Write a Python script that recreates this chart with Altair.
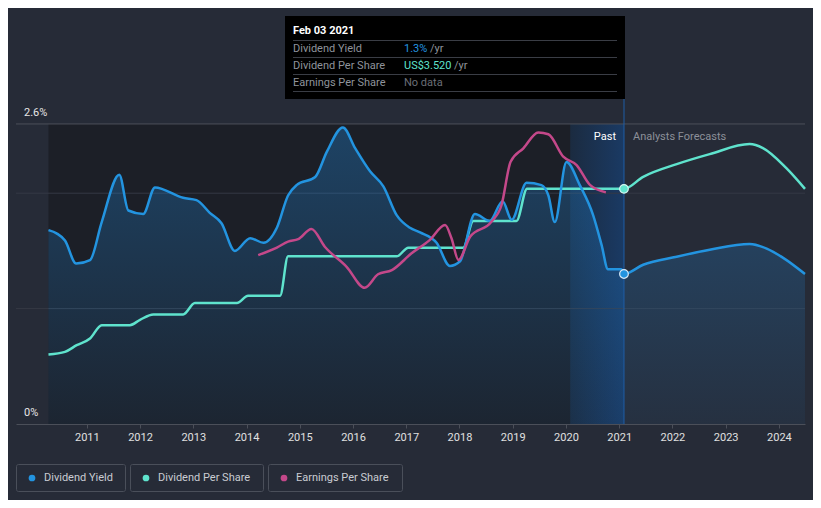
import altair as alt
import pandas as pd

# ---------------- data ----------------
# Dividend yield, % (past, then analyst forecast)
yield_years = [2010.28, 2010.44, 2010.59, 2010.80, 2011.06, 2011.28, 2011.61, 2011.78,
               2012.06, 2012.28, 2012.81, 2013.06, 2013.31, 2013.53, 2013.78, 2014.07,
               2014.32, 2014.57, 2014.78, 2014.94, 2015.29, 2015.51, 2015.81, 2016.04,
               2016.32, 2016.57, 2016.82, 2017.07, 2017.26, 2017.57, 2017.82, 2018.01,
               2018.29, 2018.57, 2018.81, 2018.98, 2019.26, 2019.54, 2019.67, 2019.79,
               2020.01, 2020.26, 2020.51, 2020.67, 2020.79, 2021.04]
yield_vals = [1.68, 1.65, 1.59, 1.39, 1.42, 1.75, 2.16, 1.85,
              1.82, 2.05, 1.96, 1.94, 1.83, 1.74, 1.50, 1.61,
              1.57, 1.70, 1.98, 2.07, 2.14, 2.36, 2.57, 2.39,
              2.19, 2.06, 1.81, 1.70, 1.66, 1.57, 1.37, 1.41,
              1.82, 1.76, 1.93, 1.77, 2.09, 2.07, 1.98, 1.75,
              2.27, 2.07, 1.81, 1.55, 1.34, 1.34]
yield_fc_years = [2021.09, 2021.45, 2022.08, 2022.70, 2023.45, 2023.77, 2024.08, 2024.49]
yield_fc_vals = [1.30, 1.38, 1.45, 1.51, 1.56, 1.52, 1.44, 1.30]

# Dividend per share, US$
dps_years = [2010.28, 2010.59, 2010.81, 2011.06, 2011.28, 2011.81, 2012.00, 2012.25,
             2012.81, 2013.03, 2013.82, 2014.03, 2014.63, 2014.78, 2016.82, 2017.04,
             2018.07, 2018.26, 2019.07, 2019.27, 2021.09]
dps_vals = [1.04, 1.08, 1.18, 1.28, 1.48, 1.48, 1.56, 1.64,
            1.64, 1.81, 1.81, 1.92, 1.92, 2.51, 2.51, 2.64,
            2.64, 3.04, 3.04, 3.52, 3.52]
dps_fc_years = [2021.09, 2021.45, 2022.08, 2022.70, 2023.45, 2023.70, 2024.14, 2024.49]
dps_fc_vals = [3.52, 3.70, 3.89, 4.04, 4.19, 4.13, 3.83, 3.52]

# Earnings per share, US$
eps_years = [2014.22, 2014.57, 2014.78, 2014.97, 2015.22, 2015.47, 2015.88, 2016.22,
             2016.47, 2016.73, 2017.10, 2017.44, 2017.73, 2017.85, 2017.98, 2018.20,
             2018.60, 2018.79, 2018.96, 2019.20, 2019.48, 2019.67, 2019.95, 2020.20,
             2020.45, 2020.75]
eps_vals = [5.63, 5.88, 6.08, 6.16, 6.50, 5.91, 5.24, 4.54,
            4.99, 5.13, 5.69, 6.13, 6.63, 6.19, 5.47, 6.24,
            6.74, 7.30, 8.74, 9.19, 9.72, 9.66, 8.91, 8.63,
            7.97, 7.72]

x_ticks = list(range(2011, 2025))
y_label_vals = [0.0, 2.6]
y_label_text = ["0%", "2.6%"]
grid_vals = [1.0, 2.0]
top_grid_vals = [2.6]

past_start = 2010.28
now_year = 2021.09
band_start = 2020.08

tooltip_title = "Feb 03 2021"
tooltip_labels = ["Dividend Yield", "Dividend Per Share", "Earnings Per Share"]
tooltip_values = ["1.3%", "US$3.520", "No data"]
tooltip_units = ["/yr", "/yr", ""]

legend_labels = ["Dividend Yield", "Dividend Per Share", "Earnings Per Share"]

# ---------------- styling ----------------
BG = "#262b37"
BLUE = "#2394e0"
TEAL = "#5fe3cd"
PINK = "#c4488a"
FONT = "Roboto"

W, H = 789, 408
X_DOMAIN = [2009.67, 2024.49]
YIELD_DOMAIN = [0, 3.5355]
DPS_DOMAIN = [0, 6.108]
EPS_DOMAIN = [0, 13.6]


def xenc(field):
    return alt.X(f"{field}:Q",
                 scale=alt.Scale(domain=X_DOMAIN, nice=False, zero=False),
                 axis=alt.Axis(values=x_ticks, format="d", title=None, grid=False))


def yenc(field, domain):
    return alt.Y(f"{field}:Q",
                 scale=alt.Scale(domain=domain, nice=False, zero=False),
                 axis=None)


one = alt.Data(values=[{}])

# background regions
regions = pd.DataFrame({"x0": [past_start], "x1": [now_year], "y0": [0.0], "y1": [2.6]})
past_bg = alt.Chart(regions).mark_rect(color="#1c1f27").encode(
    x=xenc("x0"), x2="x1:Q", y=yenc("y0", YIELD_DOMAIN), y2="y1:Q")

band = pd.DataFrame({"x0": [band_start], "x1": [now_year], "y0": [0.0], "y1": [2.6]})
band_rect = alt.Chart(band).mark_rect(
    color=alt.Gradient(gradient="linear", x1=0, x2=1, y1=0, y2=0,
                       stops=[alt.GradientStop(offset=0, color="#1b2b40"),
                              alt.GradientStop(offset=1, color="#1a3a64")])
).encode(x=xenc("x0"), x2="x1:Q", y=yenc("y0", YIELD_DOMAIN), y2="y1:Q")

grid = alt.Chart(pd.DataFrame({"v": grid_vals})).mark_rule(color="#353944", strokeWidth=1).encode(
    y=yenc("v", YIELD_DOMAIN), x=alt.value(0), x2=alt.value(W))
top_grid = alt.Chart(pd.DataFrame({"v": top_grid_vals})).mark_rule(color="#4b4f59", strokeWidth=1).encode(
    y=yenc("v", YIELD_DOMAIN), x=alt.value(0), x2=alt.value(W))

# yield area
area_df = pd.DataFrame({"year": yield_years + yield_fc_years,
                        "v": yield_vals + yield_fc_vals})
yield_area = alt.Chart(area_df).mark_area(
    interpolate="monotone",
    color=alt.Gradient(gradient="linear", x1=0, x2=0, y1=0, y2=1,
                       stops=[alt.GradientStop(offset=0, color="rgba(33,150,243,0.30)"),
                              alt.GradientStop(offset=1, color="rgba(33,150,243,0.05)")])
).encode(x=xenc("year"), y=yenc("v", YIELD_DOMAIN))

yield_line = alt.Chart(area_df).mark_line(interpolate="monotone", color=BLUE, strokeWidth=2.5).encode(
    x=xenc("year"), y=yenc("v", YIELD_DOMAIN))

dps_df = pd.DataFrame({"year": dps_years + dps_fc_years[1:], "v": dps_vals + dps_fc_vals[1:]})
dps_line = alt.Chart(dps_df).mark_line(interpolate="monotone", color=TEAL, strokeWidth=2.5).encode(
    x=xenc("year"), y=yenc("v", DPS_DOMAIN))

eps_df = pd.DataFrame({"year": eps_years, "v": eps_vals})
eps_line = alt.Chart(eps_df).mark_line(interpolate="monotone", color=PINK, strokeWidth=2.5).encode(
    x=xenc("year"), y=yenc("v", EPS_DOMAIN))

# hover line + markers
hover = pd.DataFrame({"x": [now_year], "y0": [0.0], "y1": [2.9]})
hover_rule = alt.Chart(hover).mark_rule(color="#1f5ea6", strokeWidth=1).encode(
    x=xenc("x"), y=yenc("y0", YIELD_DOMAIN), y2="y1:Q")

m_yield = alt.Chart(pd.DataFrame({"year": [yield_fc_years[0]], "v": [yield_fc_vals[0]]})).mark_circle(
    color=BLUE, size=75, opacity=1, stroke="#d5e8f7", strokeWidth=1.2).encode(
    x=xenc("year"), y=yenc("v", YIELD_DOMAIN))
m_dps = alt.Chart(pd.DataFrame({"year": [dps_fc_years[0]], "v": [dps_fc_vals[0]]})).mark_circle(
    color=TEAL, size=75, opacity=1, stroke="#d5f5ef", strokeWidth=1.2).encode(
    x=xenc("year"), y=yenc("v", DPS_DOMAIN))

# Past / Forecast labels
pf = pd.DataFrame({"x": [now_year], "y": [2.6]})
past_txt = alt.Chart(pf).mark_text(align="right", baseline="middle", dx=-8, dy=13,
                                   fontSize=11, font=FONT, color="#ffffff", text="Past").encode(
    x=xenc("x"), y=yenc("y", YIELD_DOMAIN))
fc_txt = alt.Chart(pf).mark_text(align="left", baseline="middle", dx=9, dy=13,
                                 fontSize=11, font=FONT, color="#8c9099", text="Analysts Forecasts").encode(
    x=xenc("x"), y=yenc("y", YIELD_DOMAIN))

# y labels
ylab = alt.Chart(pd.DataFrame({"v": y_label_vals, "t": y_label_text})).mark_text(
    align="left", baseline="bottom", dy=-6, fontSize=11, font=FONT, color="#e6e6e6").encode(
    x=alt.value(8), y=yenc("v", YIELD_DOMAIN), text="t:N")

layers = [past_bg, band_rect, grid, top_grid, yield_area, hover_rule,
          dps_line, yield_line, eps_line, m_dps, m_yield, past_txt, fc_txt, ylab]

# tooltip box
TX0, TX1 = 269, 609
layers.append(alt.Chart(one).mark_rect(color="#000000").encode(
    x=alt.value(TX0), x2=alt.value(TX1), y=alt.value(0), y2=alt.value(83)))
layers.append(alt.Chart(one).mark_text(align="left", baseline="middle", fontSize=11, font=FONT,
                                       fontWeight="bold", color="#ffffff", text=tooltip_title).encode(
    x=alt.value(277), y=alt.value(15)))
sep_y = [24.5, 41.5, 58.5, 75.5]
for sy in sep_y:
    layers.append(alt.Chart(one).mark_rule(color="#3a3d45", strokeWidth=1).encode(
        x=alt.value(277), x2=alt.value(601), y=alt.value(sy)))
row_y = [32.5, 49.5, 66.5]
val_colors = [BLUE, TEAL, "#6b6f77"]
unit_x = [414, 438, 0]
for i, lab in enumerate(tooltip_labels):
    layers.append(alt.Chart(one).mark_text(align="left", baseline="middle", fontSize=11, font=FONT,
                                           color="#8f939b", text=lab).encode(
        x=alt.value(277), y=alt.value(row_y[i])))
    layers.append(alt.Chart(one).mark_text(align="left", baseline="middle", fontSize=11, font=FONT,
                                           color=val_colors[i], text=tooltip_values[i]).encode(
        x=alt.value(388), y=alt.value(row_y[i])))
    if tooltip_units[i]:
        layers.append(alt.Chart(one).mark_text(align="left", baseline="middle", fontSize=11, font=FONT,
                                               color="#8f939b", text=tooltip_units[i]).encode(
            x=alt.value(unit_x[i]), y=alt.value(row_y[i])))

# legend boxes
box_x = [(0.5, 109.5), (114.5, 247.5), (252.5, 386.5)]
dot_x = [16, 130, 268]
txt_x = [28, 142, 280]
leg_colors = [BLUE, TEAL, PINK]
for i, lab in enumerate(legend_labels):
    layers.append(alt.Chart(one).mark_rect(filled=False, stroke="#4a4f5a", strokeWidth=1, cornerRadius=2).encode(
        x=alt.value(box_x[i][0]), x2=alt.value(box_x[i][1]), y=alt.value(448.5), y2=alt.value(475.5)))
    layers.append(alt.Chart(one).mark_circle(color=leg_colors[i], size=45, opacity=1).encode(
        x=alt.value(dot_x[i]), y=alt.value(462)))
    layers.append(alt.Chart(one).mark_text(align="left", baseline="middle", fontSize=11, font=FONT,
                                           color="#c9ccd2", text=lab).encode(
        x=alt.value(txt_x[i]), y=alt.value(462)))

chart = alt.layer(*layers).resolve_scale(y="independent").properties(
    width=W, height=H, background=BG,
    padding={"left": 8, "top": 8, "right": 8, "bottom": 76},
    autosize=alt.AutoSizeParams(type="none"),
).configure(font=FONT).configure_view(stroke=None).configure_axisX(
    domainColor="#4b4f59", tickColor="#4b4f59", labelColor="#e0e0e0",
    labelFont=FONT, labelFontSize=11, tickSize=4, labelPadding=3, domainWidth=1)

chart.save("out.html", embed_options={"renderer": "svg", "actions": False})
